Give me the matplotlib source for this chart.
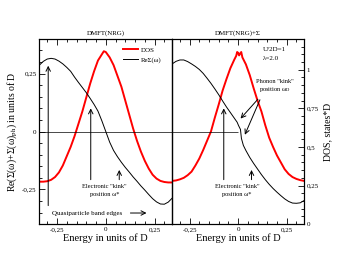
import matplotlib
matplotlib.use("Agg")
import matplotlib.pyplot as plt
from matplotlib.ticker import MultipleLocator, FuncFormatter
from matplotlib.lines import Line2D

plt.rcParams['font.family'] = ['Liberation Serif', 'DejaVu Serif']
plt.rcParams['mathtext.fontset'] = 'stix'

# left panel: DMFT(NRG)
w_dos1 = [-0.34, -0.32, -0.30, -0.28, -0.26, -0.24, -0.22, -0.20, -0.18, -0.16,
          -0.14, -0.12, -0.10, -0.08, -0.06, -0.04, -0.02, -0.01, 0.0, 0.02,
          0.04, 0.06, 0.08, 0.10, 0.12, 0.14, 0.16, 0.18, 0.20, 0.22,
          0.24, 0.26, 0.28, 0.30, 0.32, 0.34]
dos1 = [0.275, 0.275, 0.278, 0.287, 0.305, 0.335, 0.38, 0.44, 0.50, 0.57,
        0.65, 0.73, 0.82, 0.91, 0.99, 1.06, 1.10, 1.12, 1.115, 1.08,
        1.03, 0.96, 0.89, 0.80, 0.71, 0.62, 0.54, 0.47, 0.41, 0.36,
        0.32, 0.295, 0.28, 0.273, 0.27, 0.27]
w_se1 = [-0.34, -0.32, -0.30, -0.28, -0.26, -0.24, -0.22, -0.20, -0.18, -0.16,
         -0.14, -0.12, -0.10, -0.08, -0.06, -0.04, -0.02, 0.0, 0.02, 0.04,
         0.06, 0.08, 0.10, 0.12, 0.14, 0.16, 0.18, 0.20, 0.22, 0.24,
         0.26, 0.28, 0.30, 0.32, 0.34]
se1 = [0.287, 0.303, 0.313, 0.316, 0.313, 0.304, 0.292, 0.277, 0.26, 0.235,
       0.212, 0.19, 0.168, 0.143, 0.117, 0.088, 0.046, 0.0, -0.046, -0.082,
       -0.109, -0.133, -0.155, -0.175, -0.196, -0.215, -0.235, -0.253, -0.272, -0.29,
       -0.304, -0.313, -0.314, -0.305, -0.288]

# right panel: DMFT(NRG)+Sigma_ph
w_dos2 = [-0.34, -0.32, -0.30, -0.28, -0.26, -0.24, -0.22, -0.20, -0.18, -0.16,
          -0.14, -0.12, -0.10, -0.08, -0.06, -0.04, -0.02, -0.01, -0.005, 0.0,
          0.005, 0.01, 0.016, 0.022, 0.04, 0.06, 0.08, 0.10, 0.12, 0.14,
          0.16, 0.18, 0.20, 0.22, 0.24, 0.26, 0.28, 0.30, 0.32, 0.34]
dos2 = [0.28, 0.283, 0.29, 0.30, 0.317, 0.34, 0.38, 0.425, 0.48, 0.54,
        0.60, 0.69, 0.775, 0.865, 0.94, 1.01, 1.065, 1.09, 1.115, 1.11,
        1.093, 1.105, 1.115, 1.08, 1.035, 0.965, 0.88, 0.80, 0.73, 0.64,
        0.56, 0.50, 0.445, 0.40, 0.355, 0.325, 0.305, 0.293, 0.285, 0.28]
w_se2 = [-0.34, -0.32, -0.30, -0.28, -0.26, -0.24, -0.22, -0.20, -0.18, -0.16,
         -0.14, -0.12, -0.10, -0.08, -0.06, -0.04, -0.02, -0.005, 0.002, 0.012,
         0.017, 0.027, 0.04, 0.06, 0.08, 0.10, 0.12, 0.14, 0.16, 0.18,
         0.20, 0.22, 0.24, 0.26, 0.28, 0.30, 0.32, 0.34]
se2 = [0.292, 0.303, 0.309, 0.309, 0.302, 0.292, 0.281, 0.268, 0.251, 0.23,
       0.208, 0.184, 0.159, 0.132, 0.106, 0.082, 0.058, 0.040, 0.026, 0.009,
       -0.030, -0.060, -0.082, -0.112, -0.138, -0.162, -0.186, -0.208, -0.228, -0.246,
       -0.262, -0.277, -0.291, -0.302, -0.309, -0.31, -0.308, -0.298]

xlim = (-0.34, 0.34)
se_lim = (-0.4, 0.4)
dos_lim = (0, 1.2)


def comma(v, pos):
    s = '%g' % round(v, 3)
    return s.replace('.', ',')


fig = plt.figure(figsize=(3.52, 2.72), dpi=100)
ax1 = fig.add_axes([0.112, 0.176, 0.377, 0.681])
ax2 = fig.add_axes([0.489, 0.176, 0.375, 0.681])
d1 = ax1.twinx()
d2 = ax2.twinx()

for ax in (ax1, ax2):
    ax.set_xlim(*xlim)
    ax.set_ylim(*se_lim)
    ax.xaxis.set_major_locator(MultipleLocator(0.25))
    ax.xaxis.set_minor_locator(MultipleLocator(0.05))
    ax.xaxis.set_major_formatter(FuncFormatter(comma))
    ax.tick_params(which='both', direction='in', top=True, bottom=True,
                   width=0.6, labelsize=5, pad=2)
    ax.tick_params(which='major', length=4)
    ax.tick_params(which='minor', length=2)
    ax.set_xlabel('Energy in units of D', fontsize=7.5, labelpad=1)
for ax in (ax1, ax2, d1, d2):
    for sp in ax.spines.values():
        sp.set_linewidth(0.8)

ax1.yaxis.set_major_locator(MultipleLocator(0.25))
ax1.yaxis.set_minor_locator(MultipleLocator(0.05))
ax1.yaxis.set_major_formatter(FuncFormatter(comma))
ax1.tick_params(which='both', axis='y', left=True, right=False)
ax1.set_ylabel('Re(Σ(ω)+Σ(ω)$_{\\mathrm{ph}}$) in units of D', fontsize=7, labelpad=2)
ax2.tick_params(axis='y', which='both', left=False, right=False, labelleft=False)

d1.set_ylim(*dos_lim)
d1.tick_params(axis='y', which='both', right=False, labelright=False)
d2.set_ylim(*dos_lim)
d2.yaxis.set_major_locator(MultipleLocator(0.25))
d2.yaxis.set_minor_locator(MultipleLocator(0.05))
d2.yaxis.set_major_formatter(FuncFormatter(comma))
d2.tick_params(which='both', direction='in', width=0.6, labelsize=5, pad=2)
d2.tick_params(which='major', length=4)
d2.tick_params(which='minor', length=2)
d2.set_ylabel('DOS, states*D', fontsize=7, labelpad=3)

ax1.set_title('DMFT(NRG)', fontsize=5, pad=3)
ax2.set_title('DMFT(NRG)+Σ', fontsize=5, pad=3)

# curves
d1.plot(w_dos1, dos1, color='red', lw=1.4)
ax1.plot(w_se1, se1, color='black', lw=0.7)
d2.plot(w_dos2, dos2, color='red', lw=1.4)
ax2.plot(w_se2, se2, color='black', lw=0.7)
ax1.axhline(0, color='black', lw=0.5)
ax2.hlines(0, xlim[0], 0, color='black', lw=0.5)
ax1.set_zorder(d1.get_zorder() + 1)
ax1.patch.set_visible(False)
ax2.set_zorder(d2.get_zorder() + 1)
ax2.patch.set_visible(False)

handles = [Line2D([], [], color='red', lw=1.4), Line2D([], [], color='black', lw=0.7)]
ax1.legend(handles, ['DOS', 'ReΣ(ω)'], loc='upper left',
           bbox_to_anchor=(0.6, 0.975), frameon=False, fontsize=5,
           handlelength=2.2, handletextpad=0.5, borderpad=0, labelspacing=0.6)

ap = dict(arrowstyle='->', lw=0.7, color='black', mutation_scale=8)
tfs = 4.6

# left panel annotations
ax1.annotate('', xy=(-0.295, 0.296), xytext=(-0.295, -0.332), arrowprops=ap)
ax1.annotate('', xy=(-0.077, 0.112), xytext=(-0.077, -0.22), arrowprops=ap)
ax1.annotate('', xy=(0.069, -0.154), xytext=(0.069, -0.22), arrowprops=ap)
ax1.text(-0.005, -0.237, 'Electronic "kink"', fontsize=tfs, ha='center', va='center')
ax1.text(-0.005, -0.272, 'position ω*', fontsize=tfs, ha='center', va='center')
ax1.text(-0.095, -0.352, 'Quasiparticle band edges', fontsize=5, ha='center', va='center')
ax1.annotate('', xy=(0.223, -0.352), xytext=(0.112, -0.352), arrowprops=ap)

# right panel annotations
ax2.annotate('', xy=(-0.074, 0.112), xytext=(-0.074, -0.22), arrowprops=ap)
ax2.annotate('', xy=(0.069, -0.154), xytext=(0.069, -0.22), arrowprops=ap)
ax2.text(-0.005, -0.237, 'Electronic "kink"', fontsize=tfs, ha='center', va='center')
ax2.text(-0.005, -0.272, 'position ω*', fontsize=tfs, ha='center', va='center')
ax2.text(0.187, 0.216, 'Phonon "kink"', fontsize=tfs, ha='center', va='center')
ax2.text(0.187, 0.183, 'position ω$_{\\mathrm{D}}$', fontsize=tfs, ha='center', va='center')
ax2.annotate('', xy=(0.003, 0.047), xytext=(0.111, 0.148), arrowprops=ap)
ax2.annotate('', xy=(0.029, -0.025), xytext=(0.118, 0.148), arrowprops=ap)
ax2.text(0.125, 0.353, 'U/2D=1', fontsize=5, ha='left', va='center')
ax2.text(0.125, 0.316, 'λ=2.0', fontsize=5, ha='left', va='center')

fig.savefig('out.png', dpi=100)
